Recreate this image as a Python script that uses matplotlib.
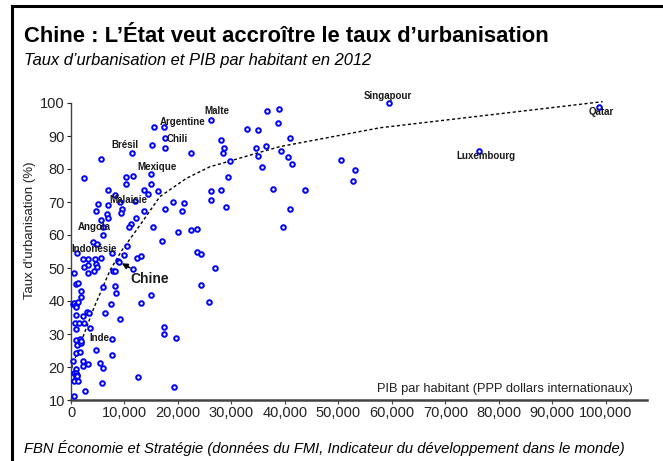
import matplotlib
matplotlib.use("Agg")
import matplotlib.pyplot as plt
from matplotlib.patches import Rectangle
from matplotlib.ticker import FuncFormatter

# PIB par habitant (milliers de dollars PPP) et taux d'urbanisation (%)
gdp_k = [26.2, 17.4, 15.5, 17.6, 15.1, 17.6, 11.4, 5.7, 22.4, 28.0,
         28.7, 28.5, 29.8, 33.0, 35.0, 34.5, 35.0, 29.3, 14.9, 15.0,
         10.3, 11.6, 10.3, 2.5, 7.0, 13.6, 16.3, 8.3, 14.4, 9.2,
         12.0, 5.0, 7.0, 4.7, 9.5, 9.4, 13.6, 6.7, 7.0, 5.7,
         12.1, 11.3, 10.9, 5.9, 6.0, 15.3, 17.6, 19.0, 21.1, 20.8,
         26.2, 28.1, 26.1, 29.0, 22.4, 23.6, 20.0, 17.1, 10.4, 4.1,
         4.9, 1.1, 7.7, 10.0, 23.5, 24.3, 12.3, 13.0, 36.6, 38.9,
         38.7, 40.9, 36.4, 39.3, 40.5, 41.3, 35.7, 50.5, 53.1, 52.8,
         37.8, 43.8, 40.9, 39.7, 59.4, 98.7, 76.2,
         2.2, 3.2, 4.5, 5.6, 3.2, 2.5, 4.6, 4.9, 4.3, 3.2,
         0.5, 8.7, 9.0, 11.5, 7.9, 8.3, 1.0, 1.4, 1.8, 1.9,
         6.0, 8.2, 8.5, 15.0, 13.1, 7.5, 6.3, 9.2, 0.3, 0.6,
         1.0, 1.4, 0.9, 1.0, 0.8, 1.5, 2.4, 2.9, 3.4, 2.2,
         3.6, 1.0, 1.0, 1.3, 1.2, 1.7, 1.8, 1.9, 7.6, 17.3,
         17.3, 19.6, 1.0, 1.6, 4.7, 7.6, 0.4, 2.2, 2.2, 3.1,
         5.5, 5.9, 1.0, 0.6, 0.9, 1.1, 0.9, 1.2, 0.6, 1.3,
         5.8, 12.6, 19.3, 2.6, 0.5, 27.0, 24.4, 25.8]
urban = [94.9, 92.6, 92.6, 89.3, 87.4, 86.5, 84.9, 82.9, 84.9, 88.8,
         86.3, 84.7, 82.5, 92.0, 91.7, 86.3, 83.9, 77.6, 78.4, 75.6,
         77.6, 77.9, 75.6, 77.2, 73.7, 73.6, 73.3, 72.1, 72.3, 70.1,
         70.3, 69.4, 69.0, 67.3, 68.0, 66.6, 67.3, 66.4, 65.3, 64.5,
         65.1, 63.4, 62.5, 62.4, 59.9, 62.3, 67.8, 69.9, 69.6, 67.3,
         73.4, 73.6, 70.7, 68.6, 61.6, 61.7, 60.8, 58.1, 56.6, 57.8,
         57.4, 54.5, 54.5, 54.0, 54.8, 54.1, 53.0, 53.5, 97.5, 98.2,
         93.8, 89.3, 87.1, 85.4, 83.5, 81.6, 80.7, 82.6, 79.6, 76.4,
         74.0, 73.7, 67.9, 62.5, 100.0, 98.9, 85.5,
         52.7, 52.6, 52.7, 53.0, 50.9, 50.2, 51.2, 50.3, 49.2, 48.5,
         48.6, 52.1, 51.7, 49.7, 49.0, 49.0, 45.1, 45.5, 43.0, 41.3,
         44.1, 44.5, 42.3, 41.9, 39.5, 39.1, 36.5, 34.5, 39.0, 39.4,
         38.8, 39.6, 38.3, 35.8, 33.2, 33.2, 33.2, 36.6, 36.4, 35.5,
         31.7, 31.5, 28.3, 27.0, 26.7, 28.6, 27.2, 27.8, 28.5, 32.1,
         29.9, 28.8, 24.1, 24.4, 25.3, 23.5, 21.8, 21.8, 20.3, 21.0,
         21.3, 19.8, 19.5, 18.3, 18.1, 17.6, 17.0, 17.3, 15.9, 15.8,
         15.2, 17.1, 14.0, 12.6, 11.3, 49.9, 44.9, 39.7]

# courbe de tendance
trend_k = [0.1, 1.8, 4.3, 7.3, 9.5, 12.9, 16.6, 21.6, 26.0, 29.7, 34.1, 39.1, 57.8, 99.4]
trend_y = [19.6, 27.2, 38.0, 49.3, 55.3, 63.0, 71.6, 77.2, 80.7, 82.4, 84.5, 86.8, 92.5, 100.4]

countries = ["Singapour", "Qatar", "Luxembourg", "Malte", "Argentine", "Chili",
             "Brésil", "Mexique", "Malaisie", "Angola", "Indonésie", "Inde"]
label_pos = [(59.3, 102.1), (99.1, 97.3), (77.6, 83.9), (27.3, 97.6), (20.9, 94.2),
             (19.8, 89.1), (10.1, 87.3), (16.1, 80.6), (10.8, 70.6), (4.3, 62.4),
             (4.3, 55.8), (5.3, 28.8)]

W, H = 663, 461
fig = plt.figure(figsize=(W / 100, H / 100), dpi=100)
fig.patch.set_facecolor("white")
plt.rcParams["font.family"] = ["Liberation Sans", "DejaVu Sans"]
narrow = ["Liberation Sans Narrow", "Liberation Sans", "DejaVu Sans"]

# cadre noir
fig.patches.append(Rectangle((12 / W, -0.2), 1.2, 1.2 - 6 / H, transform=fig.transFigure,
                             fill=False, lw=2.2, edgecolor="black"))

ax = fig.add_axes([71 / W, 1 - 400 / H, 576 / W, 297 / H])
ax.set_facecolor("white")

x = [v * 1000 for v in gdp_k]
ax.scatter(x, urban, s=11, facecolors="white", edgecolors="#0000ff", linewidths=1.4,
           zorder=3, clip_on=False)
ax.plot([v * 1000 for v in trend_k], trend_y, color="black", lw=1.0,
        linestyle=(0, (2.2, 1.8)), zorder=2, clip_on=False)

for name, (tx, ty) in zip(countries, label_pos):
    ax.text(tx * 1000, ty, name, ha="center", va="center", fontsize=7.0,
            fontweight="bold", family=narrow, color="#1a1a1a", zorder=4, clip_on=False)

ax.annotate("Chine", xy=(9500, 51.4), xytext=(14800, 46.7), ha="center", va="center",
            fontsize=10, fontweight="bold", family=narrow, color="#1a1a1a",
            arrowprops=dict(arrowstyle="-|>", color="black", lw=1.2, mutation_scale=8,
                            shrinkA=2, shrinkB=0))

ax.set_xlim(0, 107700)
ax.set_ylim(10, 100)
ax.set_xticks(range(0, 100001, 10000))
ax.set_yticks(range(10, 101, 10))
ax.xaxis.set_major_formatter(FuncFormatter(lambda v, p: f"{int(v):,}"))
for s in ["top", "right"]:
    ax.spines[s].set_visible(False)
ax.spines["left"].set_color("#444444")
ax.spines["left"].set_linewidth(1.0)
ax.spines["bottom"].set_color("#444444")
ax.spines["bottom"].set_linewidth(1.8)
ax.tick_params(axis="both", labelsize=10.5, colors="#222222", length=3, width=0.8, pad=1.5)
ax.tick_params(axis="x", color="#444444")

ax.text(0.975, 0.037, "PIB par habitant (PPP dollars internationaux)", transform=ax.transAxes,
        ha="right", va="center", fontsize=9.3, color="#222222")
fig.text(30 / W, 1 - 230 / H, "Taux d'urbanisation (%)", rotation=90, ha="center",
         va="center", fontsize=9.5, color="#222222")

fig.text(24 / W, 1 - 37 / H, "Chine : L\u2019\u00c9tat veut accro\u00eetre le taux d\u2019urbanisation",
         fontsize=15.8, fontweight="bold", ha="left", va="center", color="black")
fig.text(24 / W, 1 - 60 / H, "Taux d\u2019urbanisation et PIB par habitant en 2012",
         fontsize=11.9, style="italic", ha="left", va="center", color="black")
fig.text(24 / W, 1 - 448 / H,
         "FBN \u00c9conomie et Strat\u00e9gie (donn\u00e9es du FMI, Indicateur du d\u00e9veloppement dans le monde)",
         fontsize=10.6, style="italic", ha="left", va="center", color="black")

fig.savefig("out.png", dpi=100)
